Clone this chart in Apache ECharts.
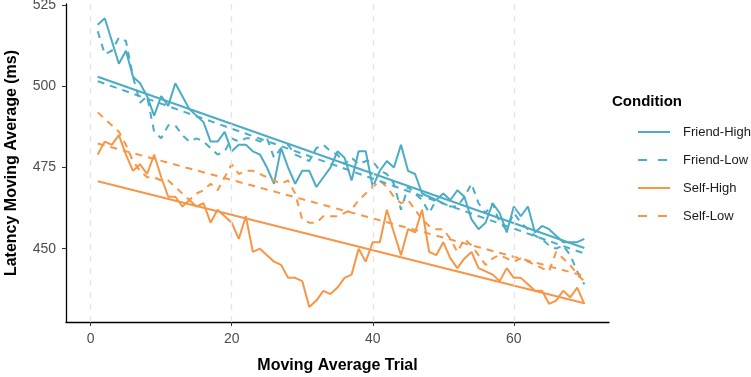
<!DOCTYPE html>
<html><head><meta charset="utf-8">
<script src="https://cdn.jsdelivr.net/npm/echarts@6/dist/echarts.min.js"></script>
<style>html,body{margin:0;padding:0;background:#fff}#c{width:751px;height:377px}</style>
</head><body><div id="c"></div>
<script>
// ---- data ----
const trials = Array.from({length: 70}, (_, i) => i + 1);
const friendHigh = [519,521,514,507,511,503,501,497,491,497,
  494,501,497,493,491,489,483,483,486,480,
  482,482,480,479,475,470,481,475,470,474,
  474,469,472,475,480,478,471,480,480,469,
  474,477,475,482,474,473,467,466,465,467,
  465,468,466,459,456,458,464,461,455,463,
  460,463,455,457,456,454,452,452,452,453];
const friendLow = [517,510,511,515,514,503,495,497,486,484,
  488,488,485,483,484,483,481,479,480,484,
  483,484,484,483,484,478,481,482,479,478,
  477,481,482,480,479,476,478,476,477,477,
  474,473,470,462,469,467,465,461,465,464,
  463,463,466,470,464,461,464,458,456,461,
  458,456,454,453,451,450,451,448,443,439];
const selfHigh = [479,483,482,485,479,474,476,473,479,472,
  466,466,463,465,463,464,458,462,460,458,
  453,460,449,450,448,446,445,441,441,440,
  432,434,437,436,438,441,442,450,446,452,
  452,462,455,448,456,455,462,449,448,452,
  447,444,447,449,444,443,442,440,444,441,
  441,439,437,437,433,434,437,435,438,433];
const selfLow = [492,490,488,486,482,477,474,472,472,471,
  471,469,467,465,467,468,470,468,472,476,
  473,474,474,473,472,471,470,471,467,459,
  458,458,460,460,460,461,462,465,467,469,
  471,469,466,464,465,462,459,457,456,456,
  453,449,453,451,448,445,447,448,447,446,
  447,446,445,444,443,449,447,445,442,440];
// fitted trend lines (endpoints)
const trendX = [1, 70];
const trendFriendHigh = [503.0, 450.2];
const trendFriendLow = [501.6, 448.5];
const trendSelfHigh = [470.8, 433.2];
const trendSelfLow = [482.4, 441.6];
const conditions = ['Friend-High', 'Friend-Low', 'Self-High', 'Self-Low'];
const xTicks = [0, 20, 40, 60];
const yTicks = [450, 475, 500, 525];

// ---- chart ----
const BLUE = '#4BACC6', ORANGE = '#F79646';
const DASH = [7, 6];
const FONT = '"Liberation Sans", Arial, sans-serif';
const pts = v => trials.map((t, i) => [t, v[i]]);
const trend = v => trendX.map((t, i) => [t, v[i]]);
const condColor = [BLUE, BLUE, ORANGE, ORANGE];
const condDashed = [false, true, false, true];

function line(name, data, color, dashed, extra) {
  return Object.assign({
    name, type: 'line', data, symbol: 'none', silent: true,
    lineStyle: {color, width: 2, type: dashed ? DASH : 'solid'},
    itemStyle: {color}
  }, extra || {});
}

// legend drawn as graphic elements (ggplot style keys)
const legendGraphic = [{
  type: 'text', left: 612, top: 94,
  style: {text: 'Condition', fontSize: 15, fontWeight: 'bold', fontFamily: FONT, fill: '#000'}
}];
conditions.forEach((name, i) => {
  const y = 132 + i * 28;
  legendGraphic.push({
    type: 'line', shape: {x1: 638, y1: y, x2: 670, y2: y}, silent: true,
    style: {stroke: condColor[i], lineWidth: 2, lineDash: condDashed[i] ? [9, 11] : null}
  });
  legendGraphic.push({
    type: 'text', x: 683, y: y, silent: true,
    style: {text: name, fontSize: 13, fontFamily: FONT, fill: '#1a1a1a', verticalAlign: 'middle', align: 'left'}
  });
});

const chart = echarts.init(document.getElementById('c'), null, {renderer: 'canvas'});
chart.setOption({
  animation: false,
  textStyle: {fontFamily: FONT},
  grid: {left: 66, right: 142, top: 4, bottom: 55, containLabel: false, outerBoundsMode: 'none'},
  graphic: legendGraphic,
  xAxis: {
    type: 'value', min: -3.5, max: 73.5,
    name: 'Moving Average Trial', nameLocation: 'middle', nameGap: 36,
    nameTextStyle: {fontWeight: 'bold', fontSize: 16, color: '#000', fontFamily: FONT},
    axisLine: {show: true, onZero: false, lineStyle: {color: '#000', width: 1.3}},
    axisTick: {show: true, customValues: xTicks, length: 4, lineStyle: {color: '#333', width: 1}},
    axisLabel: {customValues: xTicks, color: '#4D4D4D', fontSize: 14, margin: 10, fontFamily: FONT},
    splitLine: {show: false}
  },
  yAxis: {
    type: 'value', min: 427.4, max: 525.4,
    name: 'Latency Moving Average (ms)', nameLocation: 'middle', nameGap: 46,
    nameTextStyle: {fontWeight: 'bold', fontSize: 16, color: '#000', fontFamily: FONT},
    axisLine: {show: true, onZero: false, lineStyle: {color: '#000', width: 1.3}},
    axisTick: {show: true, customValues: yTicks, length: 4, lineStyle: {color: '#333', width: 1}},
    axisLabel: {customValues: yTicks, color: '#4D4D4D', fontSize: 14, margin: 10, fontFamily: FONT},
    splitLine: {show: false}
  },
  series: [
    line('grid', [], '#fff', false, {
      markLine: {silent: true, symbol: 'none', label: {show: false},
        lineStyle: {color: '#E3E3E3', type: [6, 6], width: 1.3},
        data: xTicks.map(v => ({xAxis: v}))}
    }),
    line('Friend-High', pts(friendHigh), BLUE, false),
    line('Friend-Low', pts(friendLow), BLUE, true),
    line('Self-High', pts(selfHigh), ORANGE, false),
    line('Self-Low', pts(selfLow), ORANGE, true),
    line('Friend-High trend', trend(trendFriendHigh), BLUE, false),
    line('Friend-Low trend', trend(trendFriendLow), BLUE, true),
    line('Self-High trend', trend(trendSelfHigh), ORANGE, false),
    line('Self-Low trend', trend(trendSelfLow), ORANGE, true)
  ]
});
</script></body></html>
